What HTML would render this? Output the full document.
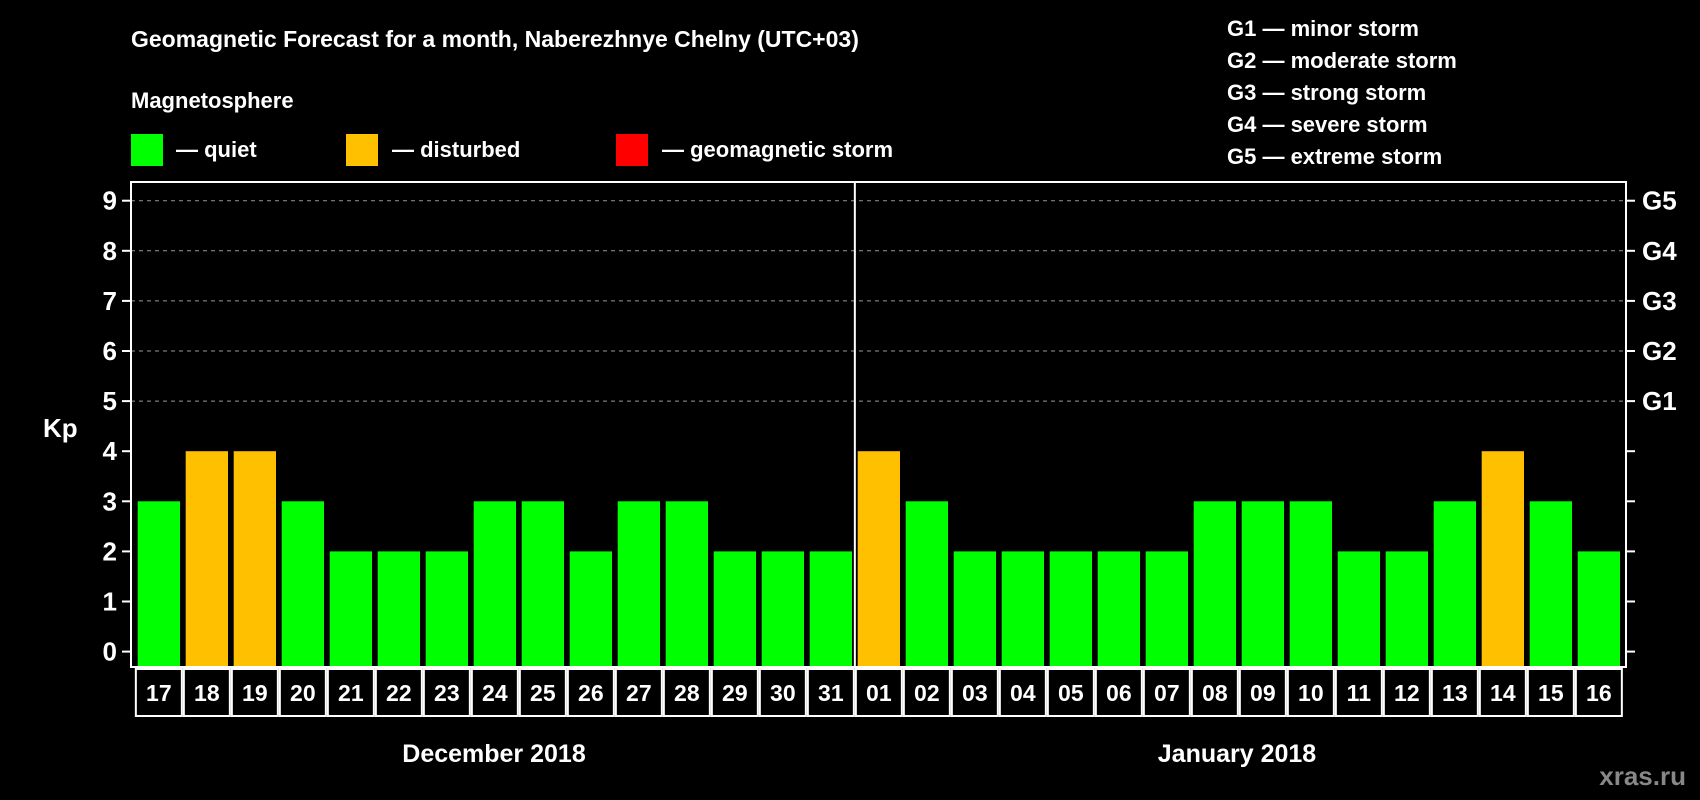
<!DOCTYPE html>
<html><head><meta charset="utf-8"><style>
html,body{margin:0;padding:0;background:#000;}
svg{display:block;font-family:"Liberation Sans",Arial,sans-serif;font-weight:bold;}
</style></head><body>
<svg id="c" width="1700" height="800" viewBox="0 0 1700 800">
<rect width="1700" height="800" fill="#000"/>
<text x="131" y="47" fill="#fff" font-size="23">Geomagnetic Forecast for a month, Naberezhnye Chelny (UTC+03)</text>
<text x="131" y="108" fill="#fff" font-size="22">Magnetosphere</text>
<g><rect x="131" y="134" width="32" height="32" fill="#00ff00"/><text x="176" y="157" fill="#fff" font-size="22">— quiet</text></g>
<g><rect x="346" y="134" width="32" height="32" fill="#ffc000"/><text x="392" y="157" fill="#fff" font-size="22">— disturbed</text></g>
<g><rect x="616" y="134" width="32" height="32" fill="#ff0000"/><text x="662" y="157" fill="#fff" font-size="22">— geomagnetic storm</text></g>
<g fill="#fff" font-size="22">
<text x="1227" y="36">G1 — minor storm</text>
<text x="1227" y="68">G2 — moderate storm</text>
<text x="1227" y="100">G3 — strong storm</text>
<text x="1227" y="132">G4 — severe storm</text>
<text x="1227" y="164">G5 — extreme storm</text>
</g>
<text x="43" y="437" fill="#fff" font-size="26">Kp</text>
<text x="494" y="762" fill="#fff" font-size="25" text-anchor="middle">December 2018</text>
<text x="1237" y="762" fill="#fff" font-size="25" text-anchor="middle">January 2018</text>
<text x="1686" y="785" fill="#888" font-size="26" text-anchor="end">xras.ru</text>
<g id="plot"></g>
</svg>
<script>
const days = ["17","18","19","20","21","22","23","24","25","26","27","28","29","30","31","01","02","03","04","05","06","07","08","09","10","11","12","13","14","15","16"];
const kpValues = [3,4,4,3,2,2,2,3,3,2,3,3,2,2,2,4,3,2,2,2,2,2,3,3,3,2,2,3,4,3,2];
const yTicks = [0,1,2,3,4,5,6,7,8,9];
const gLabels = ["G1","G2","G3","G4","G5"];
const gLevels = [5,6,7,8,9];

const NS="http://www.w3.org/2000/svg";
const plot=document.getElementById('plot');
const L=131,R=1626,T=182,B=667;
const y0=651.6,unit=50.1;
const x0=137.7,pitch=48.0,bw=42.3;
function yS(v){return y0-v*unit;}
function xS(i){return x0+i*pitch;}
function mk(tag,attrs,parent){const e=document.createElementNS(NS,tag);for(const k in attrs)e.setAttribute(k,attrs[k]);(parent||plot).appendChild(e);return e;}
// grid
gLevels.forEach((v,i)=>{
  const g=mk('line',{x1:L,x2:R,y1:yS(v),y2:yS(v),stroke:'#999','stroke-width':1,'stroke-dasharray':'4,4'});
  
  
});
// bars
kpValues.forEach((v,i)=>{
  const r=mk('rect',{x:xS(i),y:yS(v),width:bw,height:B-yS(v),fill:v>=5?'#ff0000':(v>=4?'#ffc000':'#00ff00')});
  
  
});
// frame
const fr=mk('rect',{x:L,y:T,width:R-L,height:B-T,fill:'none',stroke:'#fff','stroke-width':2});


// month divider
const di=days.indexOf("01");
const dv=mk('line',{x1:xS(di)-(pitch-bw)/2,x2:xS(di)-(pitch-bw)/2,y1:T,y2:B,stroke:'#fff','stroke-width':2});


// y ticks
yTicks.forEach(v=>{
  const t=mk('line',{x1:L-9,x2:L,y1:yS(v),y2:yS(v),stroke:'#fff','stroke-width':2});
  
  
  const t2=mk('line',{x1:R,x2:R+9,y1:yS(v),y2:yS(v),stroke:'#fff','stroke-width':2});
  
  
  const tx=mk('text',{x:117,y:yS(v)+9,fill:'#fff','font-size':26,'text-anchor':'end'});
  tx.textContent=v;
  
  
});
gLabels.forEach((g,i)=>{
  const tx=mk('text',{x:1642,y:yS(gLevels[i])+9,fill:'#fff','font-size':26});
  tx.textContent=g;
  
  
});
// date boxes
days.forEach((d,i)=>{
  const bx=xS(i)-(pitch-bw)/2+1;
  const b=mk('rect',{x:bx,y:669,width:pitch-2,height:47,fill:'none',stroke:'#fff','stroke-width':2});
  
  
  const tx=mk('text',{x:xS(i)+bw/2,y:701,fill:'#fff','font-size':23,'text-anchor':'middle'});
  tx.textContent=d;
  
  
});
</script>
</body></html>
